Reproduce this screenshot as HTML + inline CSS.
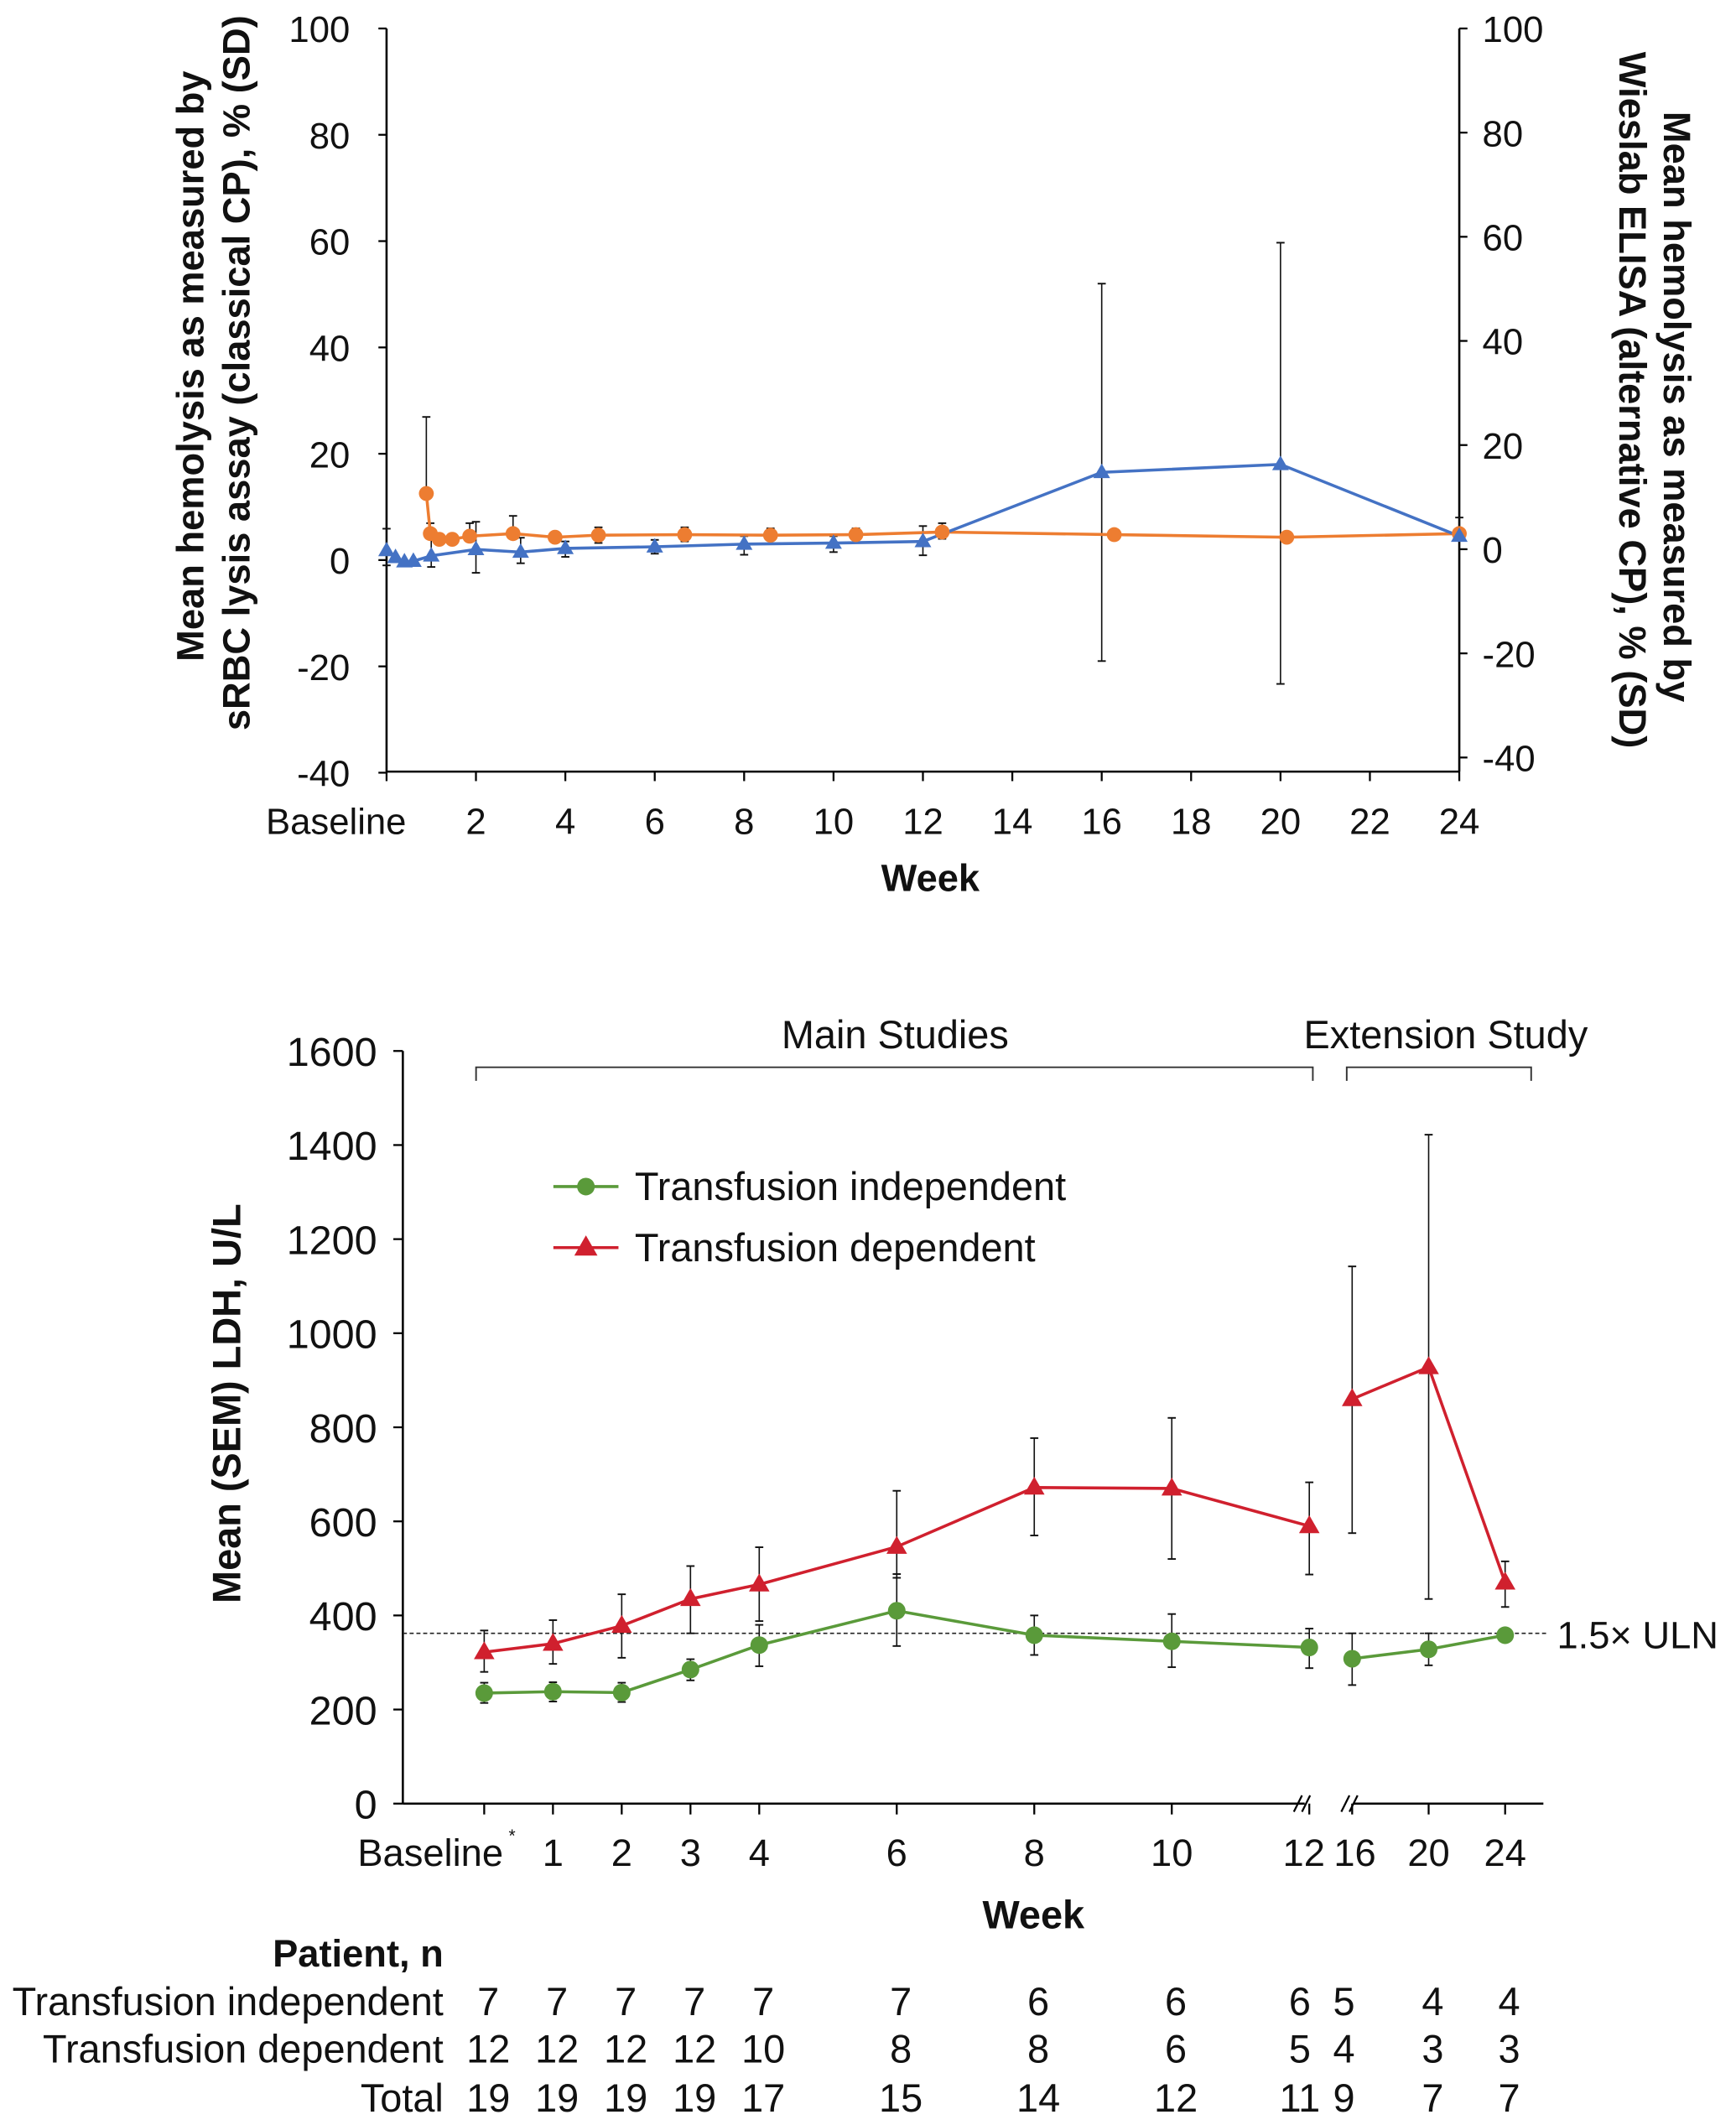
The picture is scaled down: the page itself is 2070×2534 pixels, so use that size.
<!DOCTYPE html>
<html><head><meta charset="utf-8"><style>
html,body{margin:0;padding:0;background:#fff}
svg{display:block}
text{font-family:"Liberation Sans",Arial,sans-serif;fill:#111}
</style></head><body>
<svg id="fig" width="2070" height="2534" viewBox="0 0 1280 1567" xmlns="http://www.w3.org/2000/svg">
<g id="top"></g>
<g id="bot"></g>
</svg>
<script>
// ---- Top chart data ----
const blueWeeks=[0,0.2,0.4,0.6,1,2,3,4,6,8,10,12,16,20,24];
const blueVals=[1.8,0.5,-0.3,-0.2,0.8,2,1.5,2.2,2.5,3,3.2,3.5,16.5,18,4.5];
const blueUp=[5.9,null,null,null,4,7.2,4.2,3.5,3.8,4.5,4.5,6.4,52,59.7,8];
const blueLo=[-1,null,null,null,-1.3,-2.4,-0.6,0.6,1.2,1,1.5,0.9,-19,-23.3,null];
const orWeeks=[0.89,0.98,1.18,1.47,1.86,2.83,3.77,4.74,6.67,8.59,10.5,12.43,16.28,20.14,24];
const orVals=[10.7,3,1.9,1.9,2.5,3,2.3,2.7,2.8,2.7,2.8,3.3,2.8,2.3,3];
const orUp=[25.4,5,null,null,5,6.4,null,4.2,4.2,4,4,5,null,null,null];
const orLo=[null,null,null,null,null,null,null,1.2,1.5,null,null,2,null,null,null];
const topXTicks=[2,4,6,8,10,12,14,16,18,20,22,24];
const leftTicks=[100,80,60,40,20,0,-20,-40];
const rightTicks=[100,80,60,40,20,0,-20,-40];
// ---- Bottom chart data ----
const weeks=[0,1,2,3,4,6,8,10,12,16,20,24];
const weekLabels=["Baseline","1","2","3","4","6","8","10","12","16","20","24"];
const tiVals=[235,238,236,285,337,410,358,345,332,308,328,358];
const tiUp=[257,258,257,307,380,488,400,403,372,362,362,null];
const tiLo=[214,217,216,262,292,335,316,290,288,252,294,null];
const tdVals=[322,340,378,435,466,546,672,670,590,860,928,470];
const tdUp=[368,390,445,505,545,665,777,820,683,1142,1422,515];
const tdLo=[280,297,310,362,388,480,570,520,487,575,435,418];
const ldhTicks=[0,200,400,600,800,1000,1200,1400,1600];
const uln=362;
const nIndep=[7,7,7,7,7,7,6,6,6,5,4,4];
const nDep=[12,12,12,12,10,8,8,6,5,4,3,3];
const nTotal=[19,19,19,19,17,15,14,12,11,9,7,7];

const NS="http://www.w3.org/2000/svg";
function mk(parent,tag,attrs,txt){const e=document.createElementNS(NS,tag);for(const k in attrs)e.setAttribute(k,attrs[k]);if(txt!==undefined)e.textContent=txt;parent.appendChild(e);return e;}
function tri(cx,cy,s){return `${cx},${cy-s} ${cx-s*0.95},${cy+s*0.65} ${cx+s*0.95},${cy+s*0.65}`;}

// ===== TOP =====
const T=document.getElementById('top');
const tx=w=>285+w*(1076-285)/24;
const ly=v=>413-(v)*(392/100);
const ry=v=>405-(v)*(384/100);
let e;
e=mk(T,'line',{x1:285,y1:21,x2:285,y2:569,stroke:'#000','stroke-width':1.6});

e=mk(T,'line',{x1:1076,y1:21,x2:1076,y2:569,stroke:'#000','stroke-width':1.6});

e=mk(T,'line',{x1:285,y1:569,x2:1076,y2:569,stroke:'#000','stroke-width':1.6});

leftTicks.forEach(v=>{mk(T,'line',{x1:279,y1:ly(v),x2:285,y2:ly(v),stroke:'#000','stroke-width':1.4});
 e=mk(T,'text',{x:258,y:ly(v)+10,'font-size':27,'text-anchor':'end'},v);
 });
rightTicks.forEach(v=>{mk(T,'line',{x1:1076,y1:ry(v),x2:1082,y2:ry(v),stroke:'#000','stroke-width':1.4});
 e=mk(T,'text',{x:1093,y:ry(v)+10,'font-size':27},v);
 });
mk(T,'line',{x1:285,y1:569,x2:285,y2:576,stroke:'#000','stroke-width':1.4});
e=mk(T,'text',{x:196,y:615,'font-size':27},'Baseline');

topXTicks.forEach(w=>{mk(T,'line',{x1:tx(w),y1:569,x2:tx(w),y2:576,stroke:'#000','stroke-width':1.4});
 e=mk(T,'text',{x:tx(w),y:615,'font-size':27,'text-anchor':'middle'},w);
 });
e=mk(T,'text',{x:686,y:657,'font-size':28,'font-weight':'bold','text-anchor':'middle'},'Week');

e=mk(T,'text',{transform:'translate(150,270) rotate(-90)','font-size':28,'font-weight':'bold','text-anchor':'middle'},'Mean hemolysis as measured by');

e=mk(T,'text',{transform:'translate(184,275) rotate(-90)','font-size':28,'font-weight':'bold','text-anchor':'middle'},'sRBC lysis assay (classical CP), % (SD)');

e=mk(T,'text',{transform:'translate(1227,300) rotate(90)','font-size':28,'font-weight':'bold','text-anchor':'middle'},'Mean hemolysis as measured by');

e=mk(T,'text',{transform:'translate(1194,295) rotate(90)','font-size':28,'font-weight':'bold','text-anchor':'middle'},'Wieslab ELISA (alternative CP), % (SD)');

function errbar(G,x,y1,y2){mk(G,'line',{x1:x,y1:y1,x2:x,y2:y2,stroke:'#111','stroke-width':1});
 mk(G,'line',{x1:x-3,y1:y1,x2:x+3,y2:y1,stroke:'#111','stroke-width':1.2});
 mk(G,'line',{x1:x-3,y1:y2,x2:x+3,y2:y2,stroke:'#111','stroke-width':1.2});}
blueWeeks.forEach((w,i)=>{const y=ly(blueVals[i]);if(blueUp[i]!==null)errbar(T,tx(w),ly(blueUp[i]),y);if(blueLo[i]!==null)errbar(T,tx(w),y,ly(blueLo[i]));});
orWeeks.forEach((w,i)=>{const y=ry(orVals[i]);if(orUp[i]!==null)errbar(T,tx(w),ry(orUp[i]),y);if(orLo[i]!==null)errbar(T,tx(w),y,ry(orLo[i]));});
e=mk(T,'polyline',{points:orWeeks.map((w,i)=>tx(w)+','+ry(orVals[i])).join(' '),fill:'none',stroke:'#ed7d31','stroke-width':2.2});

e=mk(T,'polyline',{points:blueWeeks.map((w,i)=>tx(w)+','+ly(blueVals[i])).join(' '),fill:'none',stroke:'#4472c4','stroke-width':2.2});

orWeeks.forEach((w,i)=>{e=mk(T,'circle',{cx:tx(w),cy:ry(orVals[i]),r:5.5,fill:'#ed7d31'});
 });
blueWeeks.forEach((w,i)=>{e=mk(T,'polygon',{points:tri(tx(w),ly(blueVals[i]),6.5),fill:'#4472c4'});
 });

// ===== BOTTOM =====
const B=document.getElementById('bot');
const bx=w=>w<=12?357+w*50.7:997+(w-16)*14.1;
const by=v=>1330-v*(555/1600);
e=mk(B,'line',{x1:297,y1:775,x2:297,y2:1330,stroke:'#000','stroke-width':1.6});

e=mk(B,'line',{x1:297,y1:1330,x2:962,y2:1330,stroke:'#000','stroke-width':1.6});

e=mk(B,'line',{x1:998,y1:1330,x2:1138,y2:1330,stroke:'#000','stroke-width':1.6});

[[957,963],[992,998]].forEach(p=>{p.forEach(x=>mk(B,'line',{x1:x-3,y1:1336,x2:x+3,y2:1324,stroke:'#000','stroke-width':1.4}));});
ldhTicks.forEach(v=>{mk(B,'line',{x1:290,y1:by(v),x2:297,y2:by(v),stroke:'#000','stroke-width':1.4});
 e=mk(B,'text',{x:278,y:by(v)+11,'font-size':30,'text-anchor':'end'},v);
 });
weeks.forEach((w,i)=>{mk(B,'line',{x1:bx(w),y1:1330,x2:bx(w),y2:1338,stroke:'#000','stroke-width':1.4});
 let x=bx(w),anchor='middle';if(i===0){x=bx(w)+14;anchor='end';}
 if(w===12)x-=4;if(w===16)x+=2;
 e=mk(B,'text',{x:x,y:1376,'font-size':28,'text-anchor':anchor},weekLabels[i]);
 });
mk(B,'text',{x:375,y:1358,'font-size':13},'*');
e=mk(B,'text',{x:762,y:1422,'font-size':29,'font-weight':'bold','text-anchor':'middle'},'Week');

e=mk(B,'text',{transform:'translate(177,1035) rotate(-90)','font-size':29,'font-weight':'bold','text-anchor':'middle'},'Mean (SEM) LDH, U/L');

// brackets
e=mk(B,'path',{d:'M351,797 L351,787 L968,787 L968,797',fill:'none',stroke:'#333','stroke-width':1.2});

e=mk(B,'path',{d:'M993,797 L993,787 L1129,787 L1129,797',fill:'none',stroke:'#333','stroke-width':1.2});

e=mk(B,'text',{x:660,y:773,'font-size':29,'text-anchor':'middle'},'Main Studies');

e=mk(B,'text',{x:1066,y:773,'font-size':29,'text-anchor':'middle'},'Extension Study');

// ULN
e=mk(B,'line',{x1:297,y1:by(uln),x2:1140,y2:by(uln),stroke:'#222','stroke-width':1,'stroke-dasharray':'3,2'});

e=mk(B,'text',{x:1148,y:by(uln)+11,'font-size':28},'1.5× ULN');

weeks.forEach((w,i)=>{
 if(tiUp[i]!==null)errbar(B,bx(w),by(tiUp[i]),by(tiLo[i]));
 errbar(B,bx(w),by(tdUp[i]),by(tdLo[i]));});
const seg1=weeks.map((w,i)=>i).filter(i=>weeks[i]<=12), seg2=weeks.map((w,i)=>i).filter(i=>weeks[i]>12);
[[tiVals,'#5a9a3a','ti'],[tdVals,'#d0202e','td']].forEach(([vals,col,nm])=>{
 [seg1,seg2].forEach(seg=>{e=mk(B,'polyline',{points:seg.map(i=>bx(weeks[i])+','+by(vals[i])).join(' '),fill:'none',stroke:col,'stroke-width':2.2});
  });});
weeks.forEach((w,i)=>{e=mk(B,'circle',{cx:bx(w),cy:by(tiVals[i]),r:6.5,fill:'#5a9a3a'});
 
 e=mk(B,'polygon',{points:tri(bx(w),by(tdVals[i]),8),fill:'#d0202e'});
 });
// legend
const L=mk(B,'g',{});

mk(L,'line',{x1:408,y1:875,x2:456,y2:875,stroke:'#5a9a3a','stroke-width':2.2});
mk(L,'circle',{cx:432,cy:875,r:6.5,fill:'#5a9a3a'});
e=mk(L,'text',{x:468,y:885,'font-size':29},'Transfusion independent');

mk(L,'line',{x1:408,y1:920,x2:456,y2:920,stroke:'#d0202e','stroke-width':2.2});
mk(L,'polygon',{points:tri(432,920,9),fill:'#d0202e'});
e=mk(L,'text',{x:468,y:930,'font-size':29},'Transfusion dependent');

// table
e=mk(B,'text',{x:327,y:1450,'font-size':28,'font-weight':'bold','text-anchor':'end'},'Patient, n');

[['Transfusion independent',nIndep,1486],['Transfusion dependent',nDep,1521],['Total',nTotal,1557]].forEach(([lab,arr,y])=>{
 e=mk(B,'text',{x:327,y:y,'font-size':29,'text-anchor':'end'},lab);
 
 arr.forEach((n,i)=>{let x=bx(weeks[i])+3;if(weeks[i]===12)x=bx(12)-7;if(weeks[i]===16)x=bx(16)-6;
  e=mk(B,'text',{x:x,y:y,'font-size':29,'text-anchor':'middle'},n);
  });});
</script>
</body></html>
